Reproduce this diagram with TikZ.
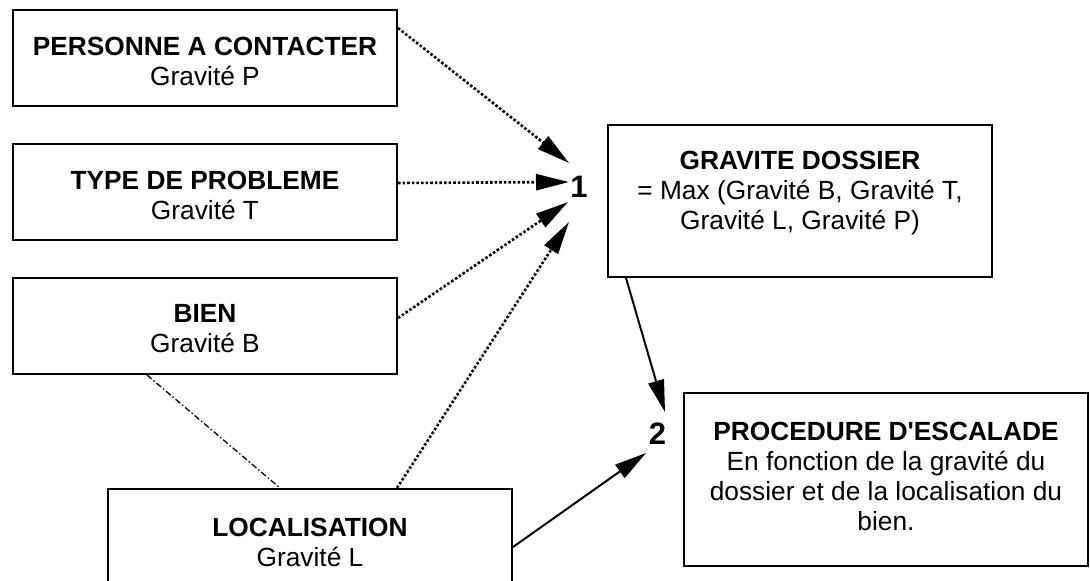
\documentclass[tikz,border=0pt]{standalone}
\usepackage{fontspec}
\setmainfont{Liberation Sans}[Ligatures=TeXOff]
\usetikzlibrary{arrows.meta,calc}
\begin{document}
\begin{tikzpicture}[x=1pt,y=-1pt,
  box/.style={draw, line width=2pt, inner sep=0pt},
  txt/.style={align=center, inner sep=0pt, font=\fontsize{26.3}{30}\selectfont},
  num/.style={inner sep=0pt, font=\fontsize{31}{32}\selectfont\bfseries},
  dotarrow/.style={line width=2.6pt, dash pattern=on 2.6pt off 2pt, -{Triangle[length=33pt,width=16pt]}},
  solidarrow/.style={line width=2pt, -{Triangle[length=32pt,width=16pt]}},
  dashdot/.style={line width=1.3pt, dash pattern=on 6pt off 2.5pt on 1.5pt off 2.5pt}]
\useasboundingbox (0,0) rectangle (1090,581);
\fill[white] (0,0) rectangle (1090,581);
% boxes
\node[box, minimum width=384pt, minimum height=96pt] (p) at (205,58) {};
\node[box, minimum width=384pt, minimum height=96pt] (t) at (205,192) {};
\node[box, minimum width=384pt, minimum height=96pt] (b) at (205,326) {};
\node[box, minimum width=404pt, minimum height=111pt] (l) at (310,544.5) {};
\node[box, minimum width=384pt, minimum height=152pt] (gd) at (800,201) {};
\node[box, minimum width=404pt, minimum height=173pt] (pe) at (886,479.5) {};
% texts
\node[txt] (pt) at (205,61) {\textbf{PERSONNE A CONTACTER}\\Gravité P};
\node[txt] (tt) at (205,195) {\textbf{TYPE DE PROBLEME}\\Gravité T};
\node[txt] (bt) at (205,329) {\textbf{BIEN}\\Gravité B};
\node[txt] (lt) at (310,542) {\textbf{LOCALISATION}\\Gravité L};
\node[txt] (gdt) at (800,193) {\textbf{GRAVITE DOSSIER}\\= Max (Gravité B, Gravité T,\\Gravité L, Gravité P)};
\node[txt] (pet) at (886,476) {\textbf{PROCEDURE D'ESCALADE}\\En fonction de la gravité du\\dossier et de la localisation du\\bien.};
% numbers
\node[num] (one) at (579,187) {1};
\node[num] (two) at (657.5,433.5) {2};
% arrow ends
\coordinate (e1p) at (569,163);
\coordinate (e1t) at (569,182);
\coordinate (e1b) at (568,202);
\coordinate (e1l) at (569,222);
\coordinate (e2g) at (665,412);
\coordinate (e2l) at (646,453);
% connectors
\draw[dotarrow] ($(p.north east)+(0,19)$) -- (e1p);
\draw[dotarrow] ($(t.east)+(0,-9)$) -- (e1t);
\draw[dotarrow] ($(b.east)+(0,-8)$) -- (e1b);
\draw[dotarrow] ($(l.north)+(87,0)$) -- (e1l);
\draw[solidarrow] ($(gd.south west)+(19,0)$) -- (e2g);
\draw[solidarrow] ($(l.east)+(0,2.5)$) -- (e2l);
\draw[dashdot] ($(b.south west)+(135,0)$) -- ($(l.north west)+(173,0)$);
\end{tikzpicture}
\end{document}
